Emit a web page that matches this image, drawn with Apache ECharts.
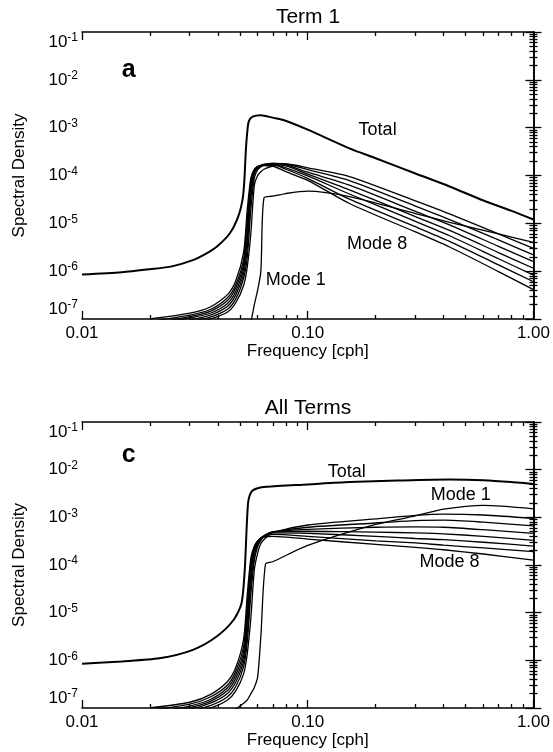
<!DOCTYPE html>
<html>
<head>
<meta charset="utf-8">
<title>Spectral density - Term 1 / All Terms</title>
<script src="https://cdn.jsdelivr.net/npm/echarts@6/dist/echarts.min.js"></script>
<style>
  html, body { margin: 0; padding: 0; background: #fff; }
  #chart { width: 553px; height: 752px; }
</style>
</head>
<body>
<div id="chart"></div>
<script>
// ---- data (frequency in cph, spectral density) ----

// panel a : Term 1
const freqTotalA = [0.01, 0.015, 0.02, 0.025, 0.031, 0.035, 0.0395, 0.0452, 0.0492, 0.0514, 0.0523, 0.0532, 0.0539, 0.0548, 0.057, 0.062, 0.07, 0.078, 0.1, 0.153, 0.2, 0.3, 0.425, 0.6, 0.8, 1.0];
const totalA = [8.5e-7, 9.5e-7, 1.10e-6, 1.26e-6, 1.70e-6, 2.24e-6, 3.24e-6, 6.2e-6, 1.38e-5, 3.1e-5, 6.9e-5, 3.4e-4, 7.6e-4, 1.35e-3, 1.70e-3, 1.82e-3, 1.62e-3, 1.45e-3, 9.1e-4, 3.7e-4, 2.29e-4, 1.10e-4, 5.9e-5, 3.0e-5, 1.82e-5, 1.20e-5];

const freqModesA = [0.02, 0.03, 0.037, 0.044, 0.048, 0.052, 0.054, 0.056, 0.058, 0.06, 0.062, 0.064, 0.07, 0.08, 0.1, 0.153, 0.3, 0.425, 0.7, 1.0];
const mode1A = [3.2e-8, 3.2e-8, 3.2e-8, 3.2e-8, 4.0e-8, 5.0e-8, 6.3e-8, 8.9e-8, 2.0e-7, 4.0e-7, 1.0e-6, 3.4e-5, 3.7e-5, 4.2e-5, 4.7e-5, 3.6e-5, 1.6e-5, 1.05e-5, 6.0e-6, 4.0e-6];
const mode2A = [5.0e-8, 7.9e-8, 1.0e-7, 1.38e-7, 2.19e-7, 5.0e-7, 1.26e-6, 6.3e-6, 6.3e-5, 1.0e-4, 1.20e-4, 1.35e-4, 1.58e-4, 1.74e-4, 1.45e-4, 9.5e-5, 2.95e-5, 1.58e-5, 6.0e-6, 3.0e-6];
const mode3A = [5.6e-8, 8.7e-8, 1.10e-7, 1.58e-7, 2.63e-7, 7.1e-7, 2.0e-6, 2.0e-5, 8.9e-5, 1.32e-4, 1.51e-4, 1.66e-4, 1.78e-4, 1.74e-4, 1.32e-4, 7.8e-5, 2.29e-5, 1.20e-5, 4.5e-6, 2.19e-6];
const mode4A = [6.3e-8, 9.5e-8, 1.20e-7, 1.82e-7, 3.2e-7, 8.9e-7, 3.2e-6, 3.55e-5, 1.07e-4, 1.41e-4, 1.58e-4, 1.70e-4, 1.78e-4, 1.66e-4, 1.17e-4, 6.3e-5, 1.78e-5, 9.3e-6, 3.3e-6, 1.58e-6];
const mode5A = [7.1e-8, 1.05e-7, 1.32e-7, 2.09e-7, 3.8e-7, 1.12e-6, 5.0e-6, 5.0e-5, 1.17e-4, 1.48e-4, 1.62e-4, 1.70e-4, 1.74e-4, 1.58e-4, 1.07e-4, 5.0e-5, 1.38e-5, 7.1e-6, 2.45e-6, 1.15e-6];
const mode6A = [7.9e-8, 1.12e-7, 1.45e-7, 2.40e-7, 4.5e-7, 1.41e-6, 7.9e-6, 6.3e-5, 1.26e-4, 1.51e-4, 1.62e-4, 1.66e-4, 1.70e-4, 1.45e-4, 9.8e-5, 4.1e-5, 1.10e-5, 5.5e-6, 1.82e-6, 8.3e-7];
const mode7A = [8.9e-8, 1.20e-7, 1.58e-7, 2.75e-7, 5.2e-7, 1.78e-6, 1.26e-5, 7.9e-5, 1.32e-4, 1.55e-4, 1.62e-4, 1.66e-4, 1.66e-4, 1.35e-4, 8.7e-5, 3.2e-5, 8.5e-6, 4.2e-6, 1.35e-6, 6.0e-7];
const mode8A = [1.0e-7, 1.32e-7, 1.78e-7, 3.2e-7, 6.3e-7, 2.5e-6, 2.0e-5, 8.9e-5, 1.35e-4, 1.51e-4, 1.58e-4, 1.62e-4, 1.58e-4, 1.20e-4, 7.9e-5, 2.6e-5, 6.6e-6, 3.2e-6, 9.8e-7, 4.1e-7];

// panel c : All Terms
const freqTotalC = [0.01, 0.015, 0.022, 0.031, 0.0395, 0.047, 0.0509, 0.0526, 0.0544, 0.0564, 0.06, 0.0657, 0.1, 0.153, 0.25, 0.425, 0.6, 0.8, 1.0];
const totalC = [8.5e-7, 9.5e-7, 1.10e-6, 1.66e-6, 3.16e-6, 7.1e-6, 1.58e-5, 7.9e-5, 1.95e-3, 3.47e-3, 4.07e-3, 4.37e-3, 4.9e-3, 5.5e-3, 5.9e-3, 6.2e-3, 6.0e-3, 5.5e-3, 5.0e-3];

const freqModesC = [0.02, 0.03, 0.037, 0.044, 0.048, 0.052, 0.054, 0.056, 0.058, 0.06, 0.062, 0.065, 0.07, 0.1, 0.2, 0.3, 0.4, 0.6, 1.0];
const mode1C = [2.5e-8, 4.0e-8, 5.6e-8, 7.6e-8, 9.5e-8, 1.26e-7, 1.48e-7, 2.0e-7, 2.7e-7, 4.5e-7, 3.2e-6, 1.05e-4, 1.17e-4, 2.57e-4, 7.1e-4, 1.07e-3, 1.48e-3, 1.78e-3, 1.51e-3];
const mode2C = [5.0e-8, 7.9e-8, 1.0e-7, 1.45e-7, 2.29e-7, 5.2e-7, 1.41e-6, 7.9e-6, 7.9e-5, 1.78e-4, 2.82e-4, 3.7e-4, 4.8e-4, 6.9e-4, 9.3e-4, 1.10e-3, 1.17e-3, 1.12e-3, 9.5e-4];
const mode3C = [5.6e-8, 8.5e-8, 1.12e-7, 1.70e-7, 2.82e-7, 7.4e-7, 2.5e-6, 2.5e-5, 1.26e-4, 2.40e-4, 3.3e-4, 4.2e-4, 4.9e-4, 6.2e-4, 7.6e-4, 8.5e-4, 8.7e-4, 7.9e-4, 6.6e-4];
const mode4C = [6.3e-8, 9.3e-8, 1.26e-7, 2.0e-7, 3.5e-7, 9.5e-7, 4.0e-6, 4.0e-5, 1.58e-4, 2.69e-4, 3.55e-4, 4.3e-4, 5.0e-4, 5.6e-4, 6.2e-4, 6.3e-4, 6.2e-4, 5.5e-4, 4.6e-4];
const mode5C = [7.1e-8, 1.02e-7, 1.38e-7, 2.29e-7, 4.2e-7, 1.20e-6, 6.3e-6, 6.3e-5, 1.91e-4, 2.88e-4, 3.6e-4, 4.3e-4, 4.9e-4, 5.1e-4, 4.9e-4, 4.7e-4, 4.5e-4, 4.0e-4, 3.3e-4];
const mode6C = [7.9e-8, 1.10e-7, 1.51e-7, 2.63e-7, 5.0e-7, 1.51e-6, 1.0e-5, 8.9e-5, 2.14e-4, 3.0e-4, 3.7e-4, 4.2e-4, 4.7e-4, 4.6e-4, 4.0e-4, 3.6e-4, 3.4e-4, 3.0e-4, 2.5e-4];
const mode7C = [8.9e-8, 1.20e-7, 1.70e-7, 3.0e-7, 5.9e-7, 2.0e-6, 1.58e-5, 1.12e-4, 2.34e-4, 3.2e-4, 3.7e-4, 4.0e-4, 4.4e-4, 4.0e-4, 3.2e-4, 2.9e-4, 2.6e-4, 2.29e-4, 1.91e-4];
const mode8C = [1.0e-7, 1.32e-7, 1.91e-7, 3.55e-7, 7.1e-7, 2.8e-6, 2.5e-5, 1.41e-4, 2.5e-4, 3.2e-4, 3.6e-4, 3.9e-4, 4.0e-4, 3.5e-4, 2.7e-4, 2.34e-4, 2.09e-4, 1.70e-4, 1.26e-4];

// tick labels: decades of the two log axes
const xTickExp = [-2, -1, 0];                 // 0.01, 0.10, 1.00
const yTickExp = [-7, -6, -5, -4, -3, -2, -1]; // 10^-7 ... 10^-1

// in-plot annotations (text placed at data coordinates)
const notesA = [
  {text: 'a', at: [0.0161, 0.0161], big: true},
  {text: 'Total', at: [0.204, 8.8e-4]},
  {text: 'Mode 8', at: [0.203, 3.75e-6]},
  {text: 'Mode 1', at: [0.0885, 6.5e-7]}
];
const notesC = [
  {text: 'c', at: [0.0161, 0.0203], big: true},
  {text: 'Total', at: [0.149, 9.06e-3]},
  {text: 'Mode 1', at: [0.476, 2.87e-3]},
  {text: 'Mode 8', at: [0.425, 1.16e-4]}
];

// ---- chart ----
const FONT = '"Liberation Sans", Arial, Helvetica, sans-serif';
const INK = '#000';

// minor ticks at 2..9 of each decade, in log10 units
const xMinorExp = [];
for (let d = -2; d < 0; d++) for (let m = 2; m <= 9; m++) xMinorExp.push(d + Math.log10(m));
const yMinorExp = [];
for (let d = -7; d < -1; d++) for (let m = 2; m <= 9; m++) yMinorExp.push(d + Math.log10(m));

const grids = [
  {left: 82, top: 32, width: 452, height: 287},
  {left: 82, top: 422, width: 452, height: 286}
];

const xAxes = [];
const yAxes = [];

function tickAxis(base, pos, values, len, extra) {
  return Object.assign({
    type: 'value', position: pos, min: base.min, max: base.max, gridIndex: base.g,
    axisLine: {show: false},
    axisTick: {show: true, inside: true, length: len, customValues: values,
      lineStyle: {color: INK, width: 1.3}},
    axisLabel: {show: false},
    splitLine: {show: false}
  }, extra || {});
}

grids.forEach((gr, g) => {
  // data axes (log); every curve is drawn through these
  xAxes.push({type: 'log', logBase: 10, min: 0.01, max: 1, gridIndex: g, show: false});
  yAxes.push({type: 'log', logBase: 10, min: 1e-7, max: 1e-1, gridIndex: g, show: false});

  const xb = {min: -2, max: 0, g: g};
  const yb = {min: -7, max: -1, g: g};
  const frame = {show: true, lineStyle: {color: INK, width: 1.6}};

  xAxes.push(tickAxis(xb, 'bottom', xTickExp, 8, {
    axisLine: frame,
    axisLabel: {show: true, customValues: xTickExp, margin: 6,
      formatter: v => Math.pow(10, v).toFixed(2),
      color: INK, fontSize: 17, fontFamily: FONT},
    name: 'Frequency [cph]', nameLocation: 'middle', nameGap: 22,
    nameTextStyle: {color: INK, fontSize: 17, fontFamily: FONT}
  }));
  xAxes.push(tickAxis(xb, 'bottom', xMinorExp, 4));
  xAxes.push(tickAxis(xb, 'top', xTickExp, 8, {axisLine: frame}));
  xAxes.push(tickAxis(xb, 'top', xMinorExp, 4));

  yAxes.push(tickAxis(yb, 'left', yTickExp, 8, {
    axisLine: frame,
    axisLabel: {show: true, customValues: yTickExp, margin: 4,
      verticalAlignMinLabel: 'bottom', verticalAlignMaxLabel: 'top',
      formatter: v => '{b|10}{s|' + v + '}',
      rich: {
        b: {fontSize: 17, fontFamily: FONT, color: INK, lineHeight: 20},
        s: {fontSize: 12, fontFamily: FONT, color: INK, verticalAlign: 'top', lineHeight: 12}
      }},
    name: 'Spectral Density', nameLocation: 'middle', nameGap: 54, nameRotate: 90,
    nameTextStyle: {color: INK, fontSize: 17, fontFamily: FONT}
  }));
  yAxes.push(tickAxis(yb, 'left', yMinorExp, 4));
  yAxes.push(tickAxis(yb, 'right', yTickExp, 8, {axisLine: frame}));
  yAxes.push(tickAxis(yb, 'right', yMinorExp, 4));
});

function curve(freqs, vals, g, width) {
  return {
    type: 'line', xAxisIndex: g * 5, yAxisIndex: g * 5,
    data: freqs.map((f, i) => [f, vals[i]]),
    symbol: 'none', smooth: 0.25, clip: true, silent: true,
    lineStyle: {color: INK, width: width}
  };
}

function notes(list, g) {
  return {
    type: 'scatter', xAxisIndex: g * 5, yAxisIndex: g * 5,
    symbolSize: 0, silent: true,
    itemStyle: {opacity: 1},
    data: list.map(n => ({value: n.at, name: n.text,
      label: n.big ? {fontSize: 25, fontWeight: 'bold'} : {}})),
    label: {show: true, position: 'inside', formatter: '{b}', opacity: 1,
      color: INK, textBorderWidth: 0, fontFamily: FONT, fontSize: 18}
  };
}

const series = [
  curve(freqTotalA, totalA, 0, 2),
  curve(freqModesA, mode1A, 0, 1.3),
  curve(freqModesA, mode2A, 0, 1.3),
  curve(freqModesA, mode3A, 0, 1.3),
  curve(freqModesA, mode4A, 0, 1.3),
  curve(freqModesA, mode5A, 0, 1.3),
  curve(freqModesA, mode6A, 0, 1.3),
  curve(freqModesA, mode7A, 0, 1.3),
  curve(freqModesA, mode8A, 0, 1.3),
  notes(notesA, 0),
  curve(freqTotalC, totalC, 1, 2),
  curve(freqModesC, mode1C, 1, 1.3),
  curve(freqModesC, mode2C, 1, 1.3),
  curve(freqModesC, mode3C, 1, 1.3),
  curve(freqModesC, mode4C, 1, 1.3),
  curve(freqModesC, mode5C, 1, 1.3),
  curve(freqModesC, mode6C, 1, 1.3),
  curve(freqModesC, mode7C, 1, 1.3),
  curve(freqModesC, mode8C, 1, 1.3),
  notes(notesC, 1)
];

const chart = echarts.init(document.getElementById('chart'), null, {renderer: 'canvas'});
chart.setOption({
  backgroundColor: '#fff',
  animation: false,
  title: [
    {text: 'Term 1', left: 308, top: 7, textAlign: 'center', padding: 0,
      textStyle: {color: INK, fontSize: 21, fontWeight: 'normal', fontFamily: FONT}},
    {text: 'All Terms', left: 308, top: 398, textAlign: 'center', padding: 0,
      textStyle: {color: INK, fontSize: 21, fontWeight: 'normal', fontFamily: FONT}}
  ],
  grid: grids,
  xAxis: xAxes,
  yAxis: yAxes,
  series: series
});
</script>
</body>
</html>
